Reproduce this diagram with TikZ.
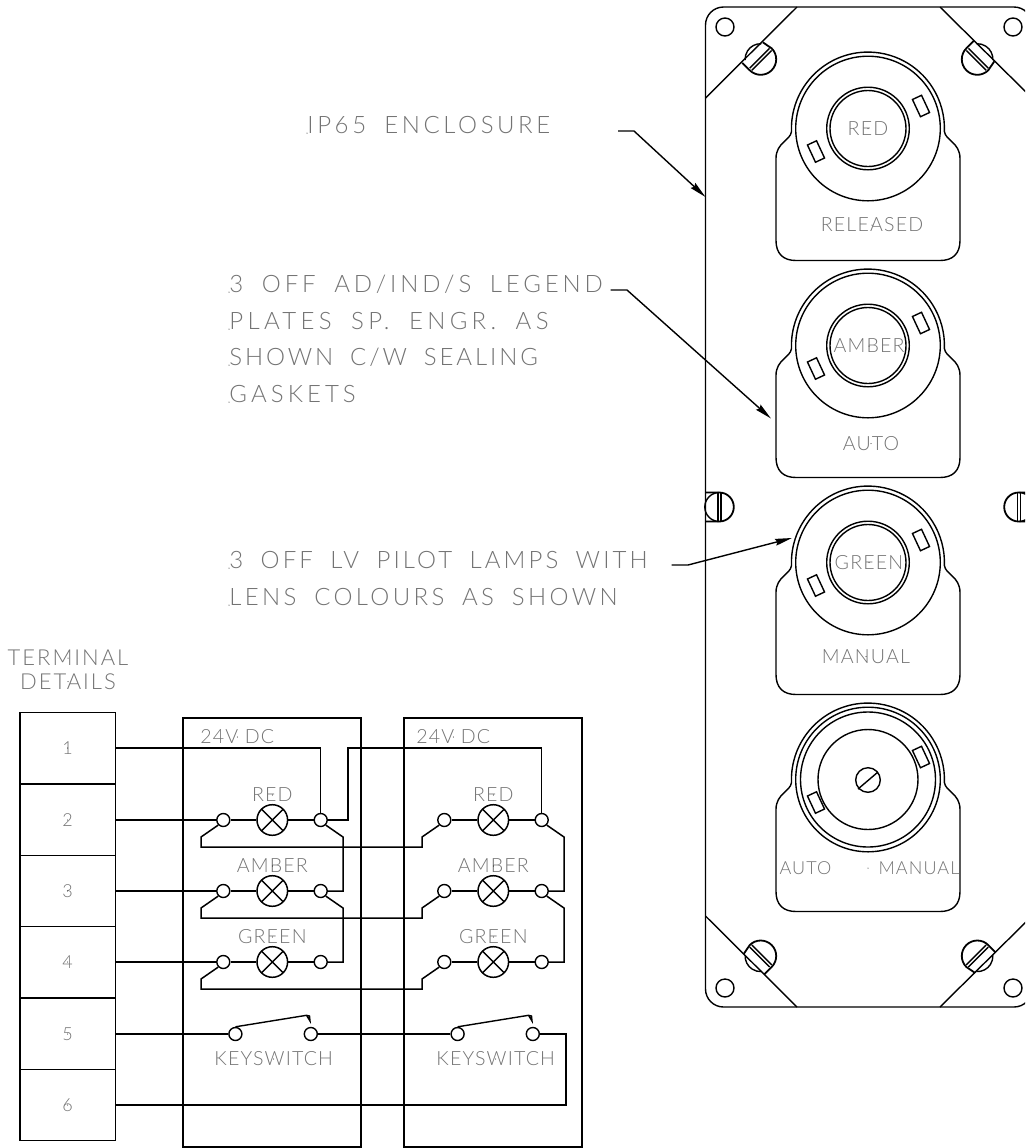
\documentclass[tikz,border=0pt]{standalone}
\usepackage{fontspec}
\usetikzlibrary{arrows.meta}
\newfontfamily\partfont[LetterSpace=6]{Lato Light}
\newfontfamily\notefont[WordSpace=1.8]{Lato Light}
\definecolor{inkgrey}{gray}{0.45}
\tikzset{
part/.style={draw=black,line width=0.7pt},
wire/.style={draw=black,line width=0.75pt,line join=miter},
leader/.style={draw=black,line width=0.7pt,-{Stealth[length=8.5pt,width=3.4pt,inset=1pt]}},
parttext/.style={text=inkgrey,inner sep=0pt,font=\partfont\fontsize{9.8}{10}\selectfont},
smalltext/.style={text=inkgrey,inner sep=0pt,font=\partfont\fontsize{9}{10}\selectfont},
titletext/.style={text=inkgrey,inner sep=0pt,font=\notefont\fontsize{11}{12}\selectfont\addfontfeature{LetterSpace=9}},
notetext/.style={text=inkgrey,inner sep=0pt,anchor=base west,font=\notefont\fontsize{12}{12}\selectfont\addfontfeature{LetterSpace=#1}},
termbox/.style={draw=black,line width=0.75pt,minimum width=47.7pt,minimum height=35.65pt,inner sep=0pt},
jn/.style={circle,draw=black,line width=0.7pt,minimum size=6.5pt,inner sep=0pt},
lampnode/.style={circle,draw=black,line width=0.75pt,minimum size=15.3pt,inner sep=0pt,path picture={\draw[line width=0.7pt] (path picture bounding box.north west) -- (path picture bounding box.south east) (path picture bounding box.north east) -- (path picture bounding box.south west);}}
}
\begin{document}
\begin{tikzpicture}[x=0.5pt,y=-0.5pt]
\path[clip,use as bounding box] (0,0) rectangle (1025,1148);
\pgfmathsetmacro\boxgap{221};
\draw[part,rounded corners=9pt] (705.5,7) rectangle (1032,1007);
\draw[part] (797,7) -- (705.5,98) (940,7) -- (1032,98) (705.5,916) -- (797,1007) (940,1007) -- (1032,916);
\foreach \hx/\hy in {725/27,1013/27,725/988,1013/988} \draw[part] (\hx,\hy) circle[radius=9];
\foreach \sx/\sy/\srot in {760.7/59.3/-45,977.3/59.3/-135,760.7/956/45,977.3/956/135} {
\draw[part,line width=0.9pt,shift={(\sx,\sy)},rotate=\srot] (-10.5,-13.5) -- (0,-15.5) arc[start angle=270,end angle=450,radius=15.5] -- (-10.5,15.5);
\draw[part,shift={(\sx,\sy)},rotate=\srot] (-10.5,-11.5) arc[start angle=228,end angle=132,radius=15.5];
\draw[part,shift={(\sx,\sy)},rotate=\srot] (-1.5,-14) -- (-1.5,14) (1.5,-14) -- (1.5,14);
}
\foreach \sx/\srot in {719.3/0,1018.7/180} {
\draw[part,line width=0.9pt,shift={(\sx,507)},rotate=\srot] (-13.5,-14.5) -- (0,-14.5) arc[start angle=270,end angle=450,radius=14.5] -- (-13.5,14.5);
\draw[part,shift={(\sx,507)},rotate=\srot] (0,-14.5) arc[start angle=270,end angle=90,radius=14.5];
\draw[part,shift={(\sx,507)},rotate=\srot] (-1.5,-14) -- (-1.5,14) (1.5,-14) -- (1.5,14);
}
\foreach \cy in {128.5,345.5,562.5,779.5} {
\begin{scope}[shift={(868,\cy)}]
\draw[part] (-76.5,3) arc[start angle=177.8,end angle=362.2,radius=76.5] .. controls (77.5,12) and (92,14) .. (92,30) -- (92,112) .. controls (92,125) and (85,132) .. (72,132) -- (-72,132) .. controls (-85,132) and (-92,125) .. (-92,112) -- (-92,30) .. controls (-92,14) and (-77.5,12) .. (-76.5,3);
\draw[part] (0,0) circle[radius=72.3];
\draw[part,shift={(53,-22.5)},rotate=-65] (-9.5,-5) rectangle (9.5,5);
\draw[part,shift={(-52,23)},rotate=-65] (-9.5,-5) rectangle (9.5,5);
\end{scope}
}
\foreach \cy in {128.5,345.5,562.5} {
\draw[part] (868,\cy) circle[radius=41.3];
\draw[part] (868,\cy) circle[radius=38];
}
\draw[part] (868,779.5) circle[radius=67.5];
\draw[part] (868,779.5) circle[radius=50];
\draw[part] (868,780) circle[radius=12.3];
\draw[part] (858,789) -- (878,772);
\node[parttext] (lensred) at (868,128.5) {RED};
\node[parttext] (platereleased) at (872,225) {RELEASED};
\node[parttext] (lensamber) at (869,346) {AMBER};
\node[parttext] (plateauto) at (871,443.5) {AUTO};
\node[parttext] (lensgreen) at (869,562.5) {GREEN};
\node[parttext] (platemanual) at (866,656.5) {MANUAL};
\node[smalltext] (keyauto) at (805.5,868) {AUTO};
\node[smalltext] (keymanual) at (919,868) {MANUAL};
\node[notetext=15] (noteip) at (307,133) {IP65 ENCLOSURE};
\node[notetext=16] (noteplatea) at (229,292) {3 OFF AD/IND/S LEGEND};
\node[notetext=18] (noteplateb) at (229,329) {PLATES SP. ENGR. AS};
\node[notetext=12] (noteplatec) at (229,365) {SHOWN C/W SEALING};
\node[notetext=17] (noteplated) at (229,402) {GASKETS};
\node[notetext=13] (notelampa) at (229,568) {3 OFF LV PILOT LAMPS WITH};
\node[notetext=14] (notelampb) at (229,605) {LENS COLOURS AS SHOWN};
\coordinate (ipstart) at (618,131);
\coordinate (ipknee) at (634,131);
\coordinate (iptip) at (705.5,197);
\coordinate (platestart) at (610.5,290);
\coordinate (plateknee) at (627,290);
\coordinate (platetip) at (771,418.5);
\coordinate (lampstart) at (671.5,565);
\coordinate (lampknee) at (688,565);
\coordinate (lamptip) at (792,538);
\draw[leader] (ipstart) -- (ipknee) -- (iptip);
\draw[leader] (platestart) -- (plateknee) -- (platetip);
\draw[leader] (lampstart) -- (lampknee) -- (lamptip);
\node[titletext] (termtitlea) at (68,658) {TERMINAL};
\node[titletext] (termtitleb) at (68,681.5) {DETAILS};
\foreach \n/\y in {1/748,2/820,3/891,4/962,5/1034,6/1105} \node[termbox,smalltext] (term\n) at (67.7,\y) {\n};
\draw[wire] (183,718) rectangle (361,1147);
\draw[wire] (404,718) rectangle (582,1147);
\node[parttext,anchor=west] (dca) at (200,737) {24V DC};
\node[parttext,anchor=west] (dcb) at (416,737) {24V DC};
\foreach \n/\y in {RED/820,AMBER/891,GREEN/962} {
\node[jn] (al\n) at (223.3,\y) {};
\node[lampnode] (am\n) at (272.3,\y) {};
\node[jn] (ar\n) at (320.7,\y) {};
\node[jn] (bl\n) at (223.3+\boxgap,\y) {};
\node[lampnode] (bm\n) at (272.3+\boxgap,\y) {};
\node[jn] (br\n) at (320.7+\boxgap,\y) {};
\node[parttext] (at\n) at (272.3,\y-25) {\n};
\node[parttext] (bt\n) at (272.3+\boxgap,\y-25) {\n};
\draw[wire] (al\n) -- (am\n) -- (ar\n) (bl\n) -- (bm\n) -- (br\n);
\draw[wire] (al\n.south west) -- (201,\y+17) -- (201,\y+27) -- (201+\boxgap,\y+27) -- (201+\boxgap,\y+17) -- (bl\n.south west);
}
\foreach \n/\m in {2/RED,3/AMBER,4/GREEN} \draw[wire] (term\n.east) -- (al\m.west);
\coordinate (jog) at (348,748);
\draw[wire] (term1.east) -| (arRED.north);
\draw[wire] (arRED.east) -| (jog) -| (brRED.north);
\foreach \p/\q/\y in {RED/AMBER/820,AMBER/GREEN/891} {
\draw[wire] (ar\p.south east) -- (343,\y+17) |- (ar\q.east);
\draw[wire] (br\p.south east) -- (343+\boxgap,\y+17) |- (br\q.east);
}
\node[jn] (aksl) at (235.4,1034) {};
\node[jn] (aksr) at (310.8,1034) {};
\node[jn] (bksl) at (457.6,1034) {};
\node[jn] (bksr) at (532.8,1034) {};
\foreach \sw/\off in {a/0,b/222} {
\coordinate (\sw blade) at (306.5+\off,1015.3);
\draw[part] (\sw ksl.north) -- (\sw blade) -- (310+\off,1021) -- (309.5+\off,1016) -- (\sw blade);
\node[parttext] (\sw kstext) at (273.7+\off,1059) {KEYSWITCH};
}
\coordinate (ksdown) at (566,1105);
\draw[wire] (term5.east) -- (aksl.west);
\draw[wire] (aksr.east) -- (bksl.west);
\draw[wire] (bksr.east) -| (ksdown) -- (term6.east);
\foreach \t in {lensred,platereleased,lensamber,plateauto,lensgreen,platemanual,termtitlea,termtitleb,term1,term2,term3,term4,term5,term6,atRED,atAMBER,atGREEN,btRED,btAMBER,btGREEN,akstext,bkstext,dca,dcb} \fill (\t.center) circle[radius=0.5];
\foreach \t in {noteip,noteplatea,noteplateb,noteplatec,noteplated,notelampa,notelampb} \fill (\t.base west) circle[radius=0.5];
\fill (868,868) circle[radius=0.5];
\end{tikzpicture}
\end{document}
